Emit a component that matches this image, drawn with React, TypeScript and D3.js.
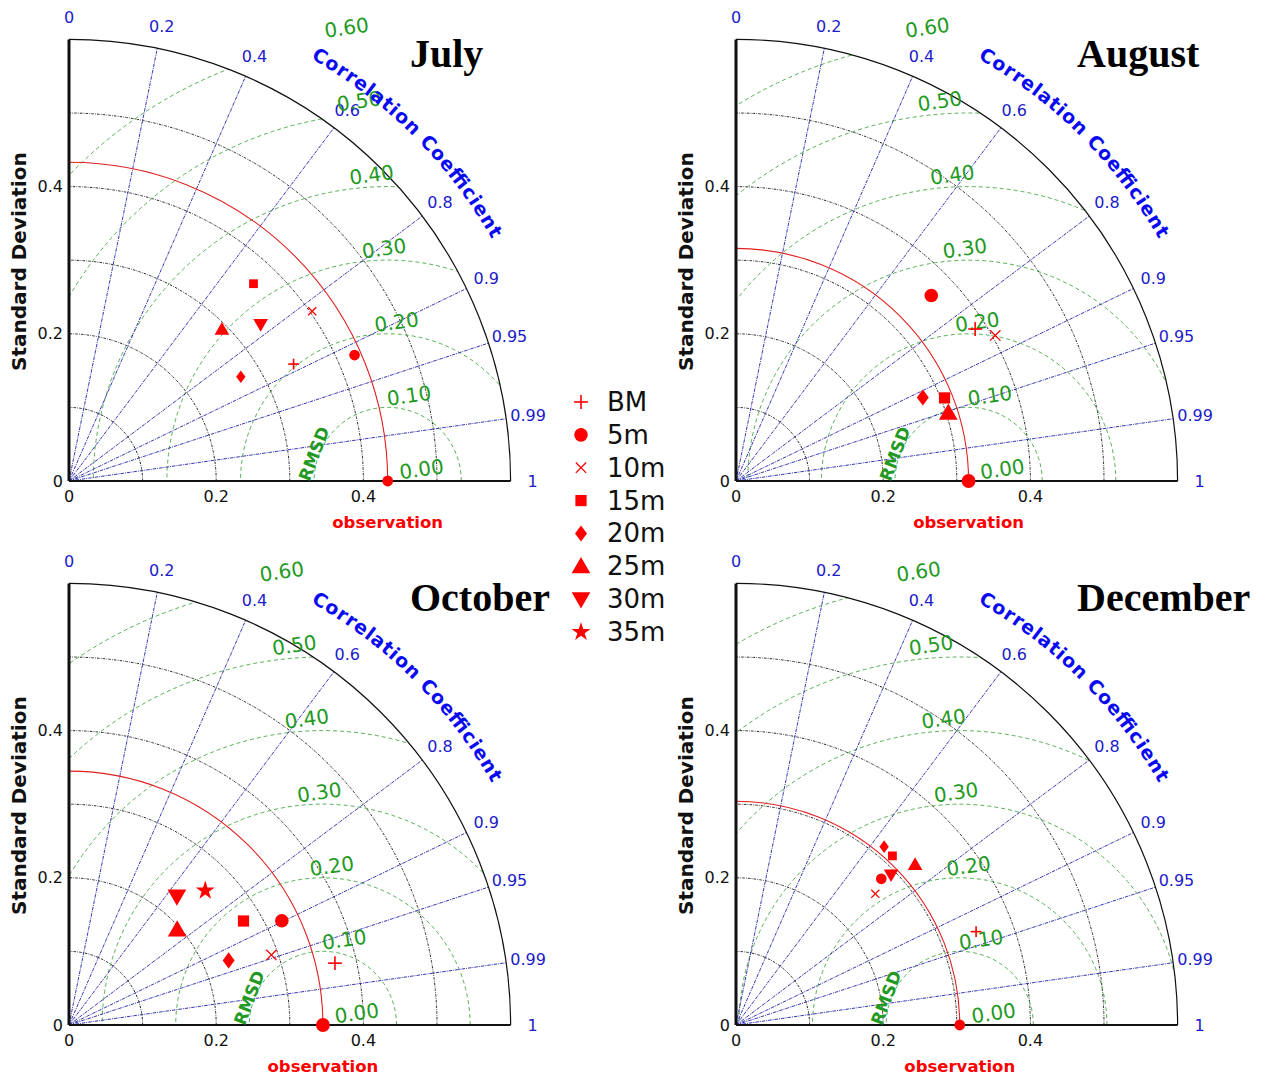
import React from 'react';
import * as d3 from 'd3';

// months shown, one Taylor diagram each
const MONTHS = ['July', 'August', 'October', 'December'];
const SERIES = ['BM', '5m', '10m', '15m', '20m', '25m', '30m', '35m'];

// observed standard deviation per month
const OBS_STD = [0.433, 0.316, 0.345, 0.304];

// model standard deviation / correlation, one entry per series (null = not shown)
const julyStd = [0.344, 0.424, 0.403, 0.367, 0.273, 0.293, 0.336, null];
const julyCor = [0.887, 0.915, 0.82, 0.683, 0.855, 0.709, 0.775, null];
const augStd = [0.385, 0.366, 0.404, 0.305, 0.278, 0.303, null, null];
const augCor = [0.844, 0.725, 0.872, 0.929, 0.913, 0.952, null, null];
const octStd = [0.371, 0.322, 0.291, 0.276, 0.234, 0.196, 0.228, 0.26];
const octCor = [0.974, 0.898, 0.945, 0.859, 0.927, 0.75, 0.643, 0.712];
const decStd = [0.35, 0.28, 0.26, 0.313, 0.315, 0.327, 0.293, null];
const decCor = [0.932, 0.705, 0.728, 0.679, 0.639, 0.744, 0.719, null];

const STD = [julyStd, augStd, octStd, decStd];
const COR = [julyCor, augCor, octCor, decCor];

// grids and ticks
const COR_LINES = [0.2, 0.4, 0.6, 0.8, 0.9, 0.95, 0.99];
const COR_LABELS = [0, 0.2, 0.4, 0.6, 0.8, 0.9, 0.95, 0.99, 1];
const STD_ARCS = [0.1, 0.2, 0.3, 0.4, 0.5];
const STD_TICKS = [0, 0.2, 0.4];
const RMS_ARCS = [0.1, 0.2, 0.3, 0.4, 0.5, 0.6];
const RMS_LABELS = [0, 0.1, 0.2, 0.3, 0.4, 0.5, 0.6];
const MAX_STD = 0.6;

const W = 1263;
const H = 1078;
const ORIGINS: [number, number][] = [[69, 481], [736, 481], [69, 1025], [736, 1025]];
const MARKER_SCALE = [0.9, 1.15, 1.15, 0.9];

const RED = '#ff0000';
const BLUE = '#1c1cc8';
const GREEN = '#229922';

const r = d3.scaleLinear().domain([0, MAX_STD]).range([0, 441.6]);
const R = r(MAX_STD);

const arcPath = (cx: number, cy: number, rad: number, a0: number, a1: number) => {
  const p = d3.path();
  p.arc(cx, cy, rad, a0, a1, true);
  return p.toString();
};

const symbolFor = (i: number) => {
  switch (SERIES[i]) {
    case '5m': return d3.symbolCircle;
    case '15m': return d3.symbolSquare;
    case '25m':
    case '30m': return d3.symbolTriangle;
    case '35m': return d3.symbolStar;
    default: return null;
  }
};

const SYMBOL_AREA: Record<string, number> = { '5m': 110, '15m': 95, '25m': 115, '30m': 115, '35m': 85 };

const Marker: React.FC<{ i: number; x: number; y: number; k: number }> = ({ i, x, y, k }) => {
  const name = SERIES[i];
  if (name === 'BM') {
    const s = 6 * k;
    return (
      <g transform={`translate(${x},${y})`} stroke={RED} strokeWidth={1.6}>
        <line x1={-s} x2={s} y1={0} y2={0} />
        <line x1={0} x2={0} y1={-s} y2={s} />
      </g>
    );
  }
  if (name === '10m') {
    const s = 4.5 * k;
    return (
      <g transform={`translate(${x},${y})`} stroke={RED} strokeWidth={1.3}>
        <line x1={-s} x2={s} y1={-s} y2={s} />
        <line x1={-s} x2={s} y1={s} y2={-s} />
      </g>
    );
  }
  if (name === '20m') {
    const hw = 5.2 * k;
    const hh = 7 * k;
    return <path d={`M0,${-hh}L${hw},0L0,${hh}L${-hw},0Z`} fill={RED} transform={`translate(${x},${y})`} />;
  }
  const sym = symbolFor(i)!;
  const d = d3.symbol().type(sym).size(SYMBOL_AREA[name] * k * k)()!;
  const rot = name === '30m' ? 180 : 0;
  const dy = name === '25m' ? 1.5 : name === '30m' ? -1.5 : 0;
  return <path d={d} fill={RED} transform={`translate(${x},${y + dy}) rotate(${rot})`} />;
};

const Panel: React.FC<{ idx: number }> = ({ idx }) => {
  const [ox, oy] = ORIGINS[idx];
  const obs = OBS_STD[idx];
  const k = MARKER_SCALE[idx];
  const clipId = `clip-${idx}`;
  const textArcId = `corr-arc-${idx}`;
  const tr = R * 1.103;
  const fmt2 = d3.format('.2f');
  const pts = STD[idx]
    .map((s, i) => ({ s, c: COR[idx][i], i }))
    .filter(d => d.s !== null && d.c !== null) as { s: number; c: number; i: number }[];

  return (
    <g transform={`translate(${ox},${oy})`}>
      <defs>
        <clipPath id={clipId}>
          <path d={`M0,0L${R},0A${R},${R} 0 0 0 0,${-R}Z`} />
        </clipPath>
        <path id={textArcId} d={`M0,${-tr}A${tr},${tr} 0 0 1 ${tr},0`} fill="none" />
      </defs>

      {/* standard deviation arcs */}
      {STD_ARCS.map(s => (
        <path key={`sd${s}`} d={arcPath(0, 0, r(s), 0, -Math.PI / 2)} fill="none" stroke="#111" strokeWidth={0.9} strokeDasharray="2.5,1.2,0.8,1.2" />
      ))}

      {/* RMSD arcs around observation */}
      <g clipPath={`url(#${clipId})`}>
        {RMS_ARCS.map(v => (
          <path key={`rms${v}`} d={arcPath(r(obs), 0, r(v), 0, -Math.PI)} fill="none" stroke={GREEN} strokeWidth={0.9} strokeDasharray="4,3" opacity={0.85} />
        ))}
      </g>

      {/* correlation lines */}
      {COR_LINES.map(c => {
        const a = Math.acos(c);
        return (
          <line key={`cl${c}`} x1={0} y1={0} x2={R * Math.cos(a)} y2={-R * Math.sin(a)} stroke="#2020a8" strokeWidth={0.9} strokeDasharray="3.5,1,1,1" />
        );
      })}

      {/* observation arc */}
      <path d={arcPath(0, 0, r(obs), 0, -Math.PI / 2)} fill="none" stroke="#e02020" strokeWidth={1.1} />

      {/* outer arc and axes */}
      <path d={arcPath(0, 0, R, 0, -Math.PI / 2)} fill="none" stroke="#111" strokeWidth={1.2} />
      <line x1={0} y1={0} x2={R} y2={0} stroke="#111" strokeWidth={2} />
      <line x1={0} y1={0} x2={0} y2={-R} stroke="#111" strokeWidth={3} />

      {/* std tick labels */}
      {STD_TICKS.map(s => (
        <g key={`st${s}`} fontFamily="DejaVu Sans" fontSize={16} fill="#111">
          <text x={-6} y={-r(s)} textAnchor="end" dominantBaseline="central">{s === 0 ? '0' : s}</text>
          <text x={r(s)} y={15} textAnchor="middle" dominantBaseline="central">{s === 0 ? '0' : s}</text>
        </g>
      ))}

      {/* correlation labels */}
      {COR_LABELS.map(c => {
        const a = Math.acos(c);
        const lr = R * 1.05;
        return (
          <text key={`cx${c}`} x={lr * Math.cos(a)} y={-lr * Math.sin(a)} textAnchor="middle" dominantBaseline="central" fontFamily="DejaVu Sans" fontSize={16} fill={BLUE}>
            {c}
          </text>
        );
      })}

      {/* RMSD labels */}
      {RMS_LABELS.map(v => {
        const x = r(obs + 0.046 - 0.17 * v);
        const y = -r(v + 0.016);
        return (
          <text key={`rl${v}`} x={x} y={y} textAnchor="middle" dominantBaseline="central" fontFamily="DejaVu Sans" fontSize={20} fill={GREEN} transform={`rotate(-8,${x},${y})`}>
            {fmt2(v)}
          </text>
        );
      })}
      <text x={r(obs - 0.1)} y={-r(0.037)} textAnchor="middle" dominantBaseline="central" fontFamily="DejaVu Sans" fontWeight="bold" fontSize={17} fill={GREEN} transform={`rotate(-69,${r(obs - 0.1)},${-r(0.037)})`}>
        RMSD
      </text>

      {/* axis titles */}
      <text x={-50} y={-r(0.298)} textAnchor="middle" dominantBaseline="central" fontFamily="DejaVu Sans" fontWeight="bold" fontSize={20} fill="#111" transform={`rotate(-90,-50,${-r(0.298)})`}>
        Standard Deviation
      </text>
      <text x={r(obs)} y={41} textAnchor="middle" dominantBaseline="central" fontFamily="DejaVu Sans" fontWeight="bold" fontSize={16.5} fill={RED}>
        observation
      </text>
      <text fontFamily="DejaVu Sans" fontWeight="bold" fontSize={19} fill="#0a0af0">
        <textPath href={`#${textArcId}`} startOffset="50%" textAnchor="middle" textLength={259} lengthAdjust="spacing">
          Correlation Coefficient
        </textPath>
      </text>

      {/* month title */}
      <text x={341} y={-414} fontFamily="Liberation Serif" fontWeight="bold" fontSize={40} fill="#000">
        {MONTHS[idx]}
      </text>

      {/* observation point */}
      <circle cx={r(obs)} cy={0} r={6 * k} fill={RED} />

      {/* model points */}
      {pts.map(d => {
        const a = Math.acos(d.c);
        return <Marker key={`m${d.i}`} i={d.i} x={r(d.s) * Math.cos(a)} y={-r(d.s) * Math.sin(a)} k={k} />;
      })}
    </g>
  );
};

const Legend: React.FC = () => {
  const y = d3.scalePoint<string>().domain(SERIES).range([402, 632]);
  return (
    <g>
      {SERIES.map((s, i) => (
        <g key={s}>
          <Marker i={i} x={581} y={y(s)!} k={1.15} />
          <text x={607} y={y(s)!} dominantBaseline="central" fontFamily="DejaVu Sans" fontSize={26} fill="#111">
            {s}
          </text>
        </g>
      ))}
    </g>
  );
};

export default function App() {
  return (
    <div style={{ position: 'absolute', left: 0, top: 0, width: W, height: H, background: '#fff' }}>
      <svg width={W} height={H} style={{ display: 'block' }}>
        <rect width={W} height={H} fill="#fff" />
        {MONTHS.map((m, i) => (
          <Panel key={m} idx={i} />
        ))}
        <Legend />
      </svg>
    </div>
  );
}
